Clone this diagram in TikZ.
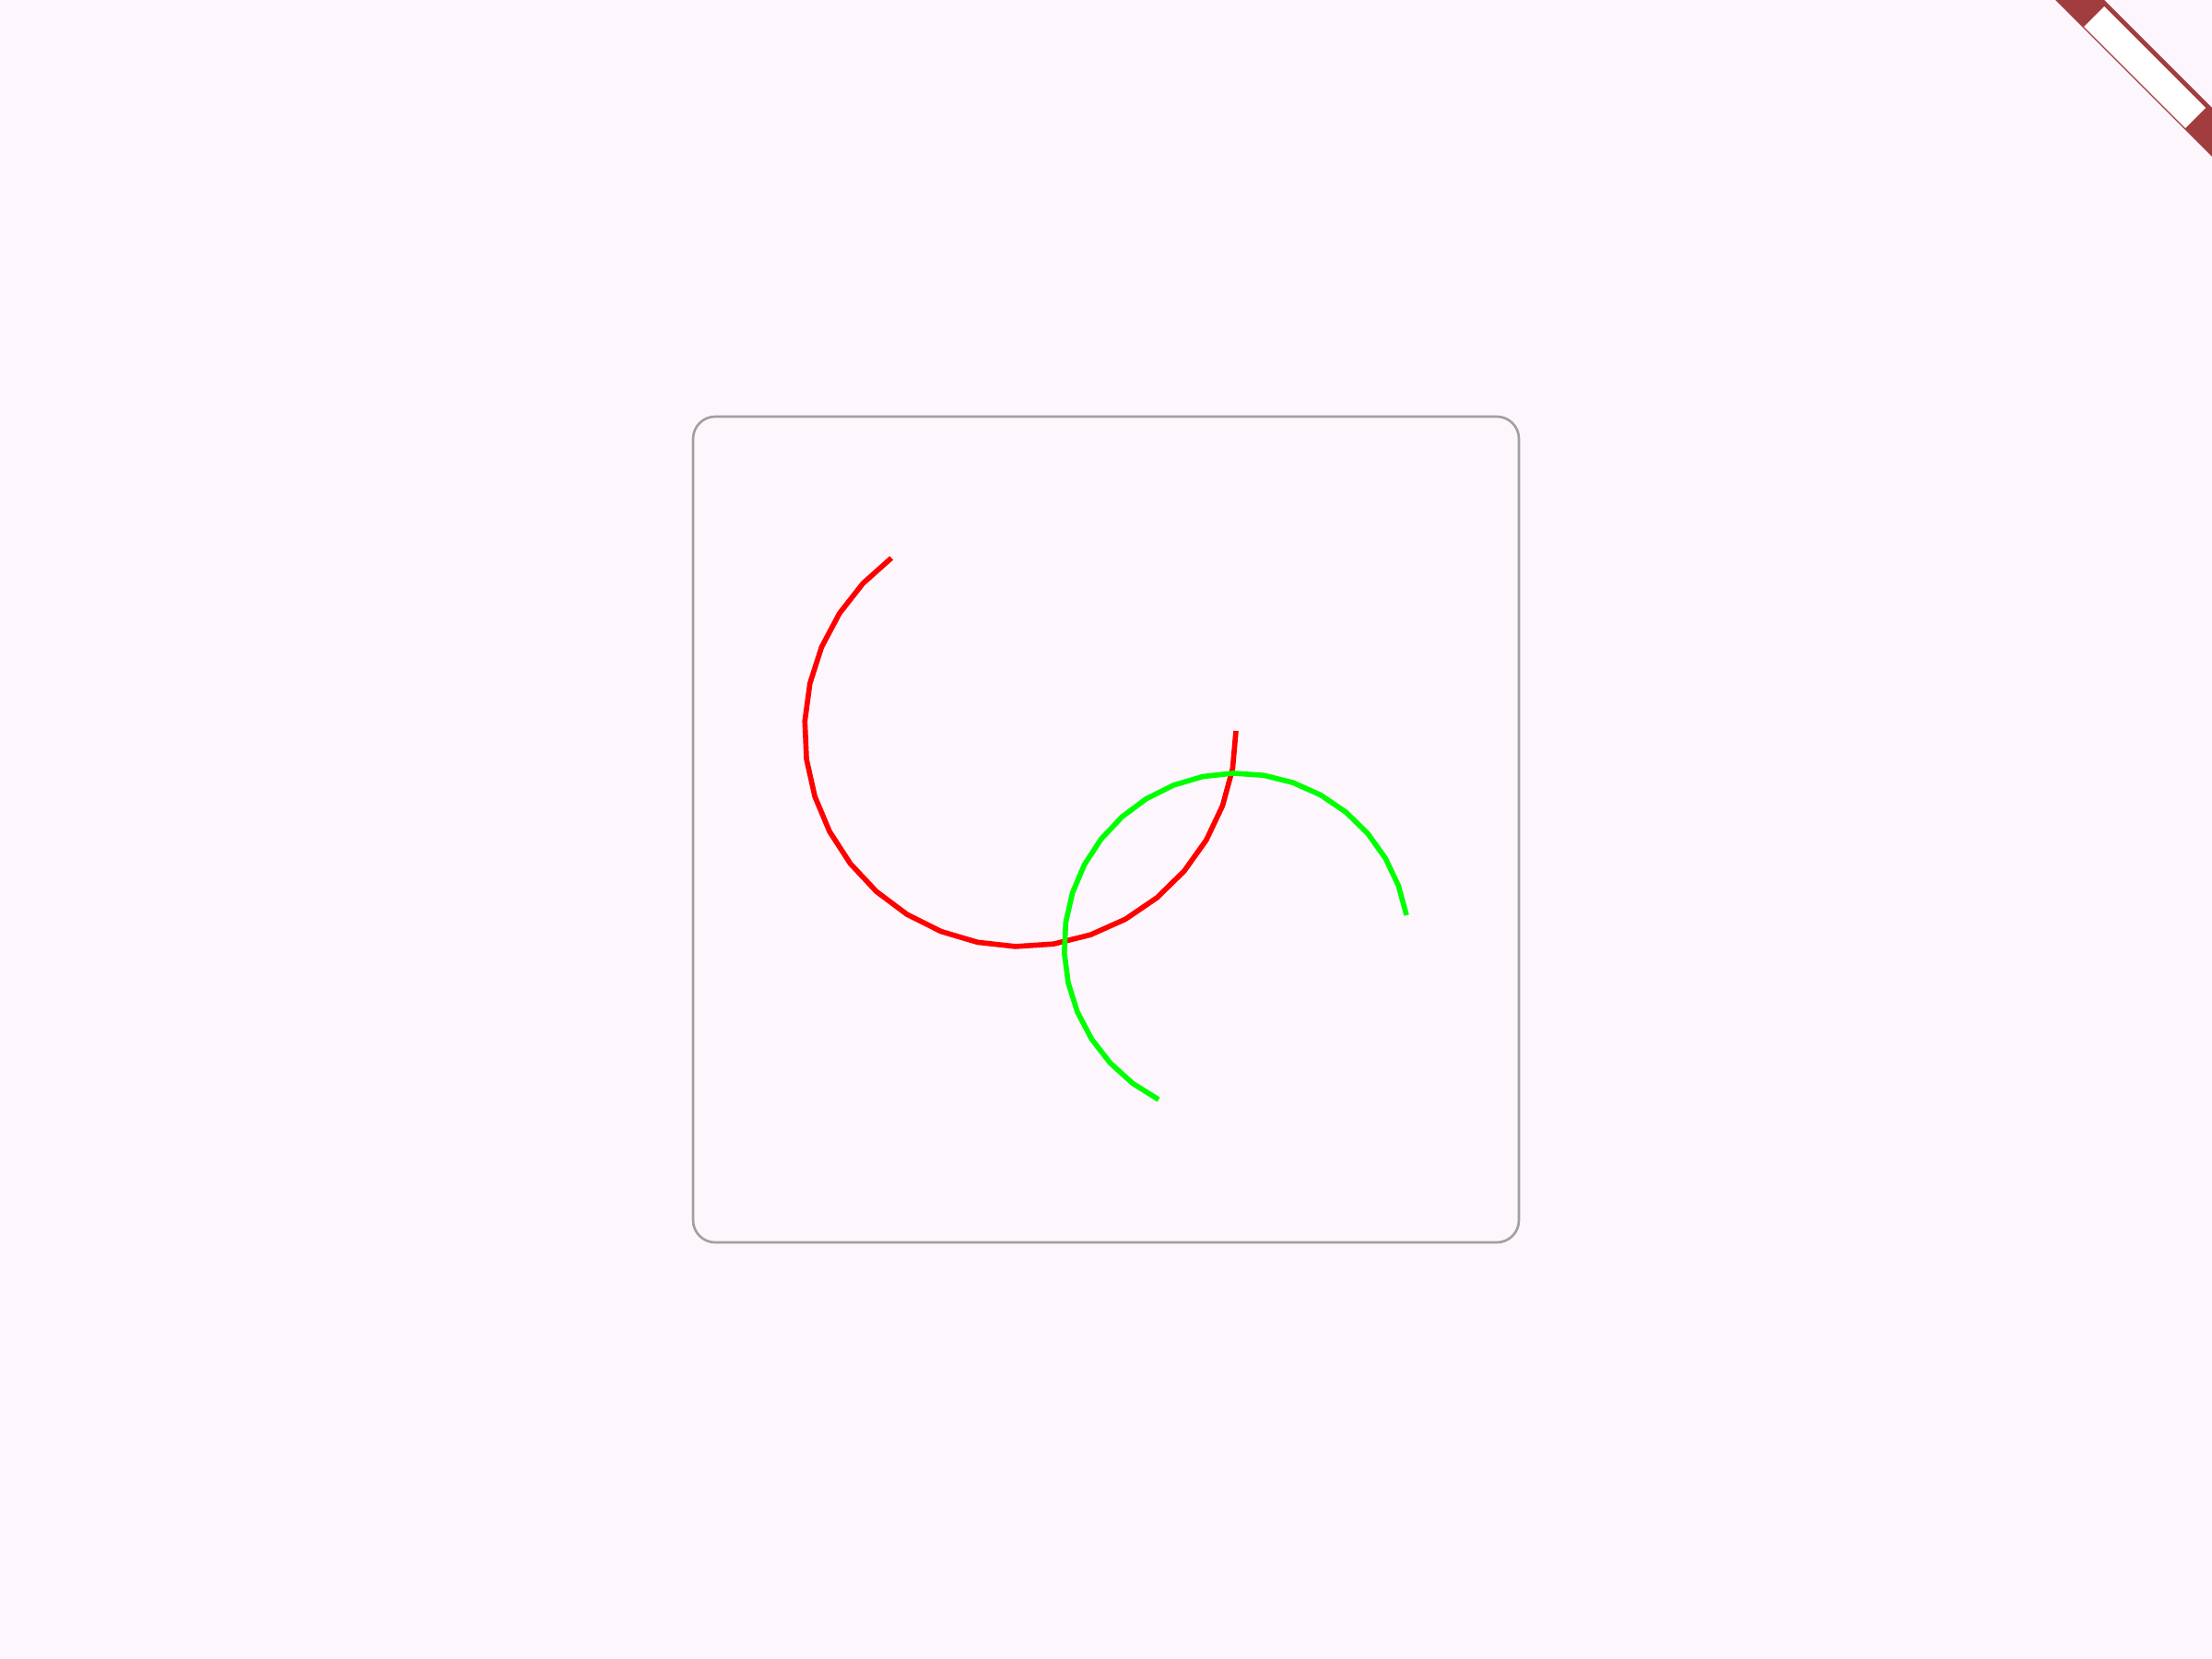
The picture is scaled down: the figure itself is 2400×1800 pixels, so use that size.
\documentclass[tikz,border=0pt]{standalone}
\usepackage{tikz}
\definecolor{PageBg}{HTML}{FDF7FD}
\definecolor{FrameLine}{HTML}{A0A0A0}
\definecolor{RibbonRed}{HTML}{A13D3F}
\definecolor{ArcRed}{HTML}{FF0000}
\definecolor{ArcGreen}{HTML}{00FF00}

\begin{document}
\begin{tikzpicture}[x=0.01cm, y=-0.01cm,
  frame/.style={draw=FrameLine, line width=0.75pt, rounded corners=2.4mm},
  arcline/.style={line width=1.6pt},
  ribbon/.style={fill=RibbonRed},
  ribbonlabel/.style={fill=white}]
  % page
  \fill[PageBg] (0,0) rectangle (2400,1800);
  \useasboundingbox (0,0) rectangle (2400,1800);
  \clip (0,0) rectangle (2400,1800);

  % frame
  \draw[frame] (752,452) rectangle (1648,1348);

  % arcs
  \draw[arcline, ArcRed] plot[samples=24, domain=126.7:360]
    ({1107+234*cos(\x)}, {793-234*sin(\x)});
  \draw[arcline, ArcGreen] plot[samples=24, domain=10.2:243.1]
    ({1341.8+187.2*cos(\x)}, {1026.1-187.2*sin(\x)});

  % corner ribbon
  \fill[ribbon] (2230,0) -- (2283,0) -- (2400,117) -- (2400,170) -- cycle;
  \fill[ribbonlabel] (2261,29) -- (2283,7) -- (2393,117) -- (2371,139) -- cycle;
\end{tikzpicture}
\end{document}
